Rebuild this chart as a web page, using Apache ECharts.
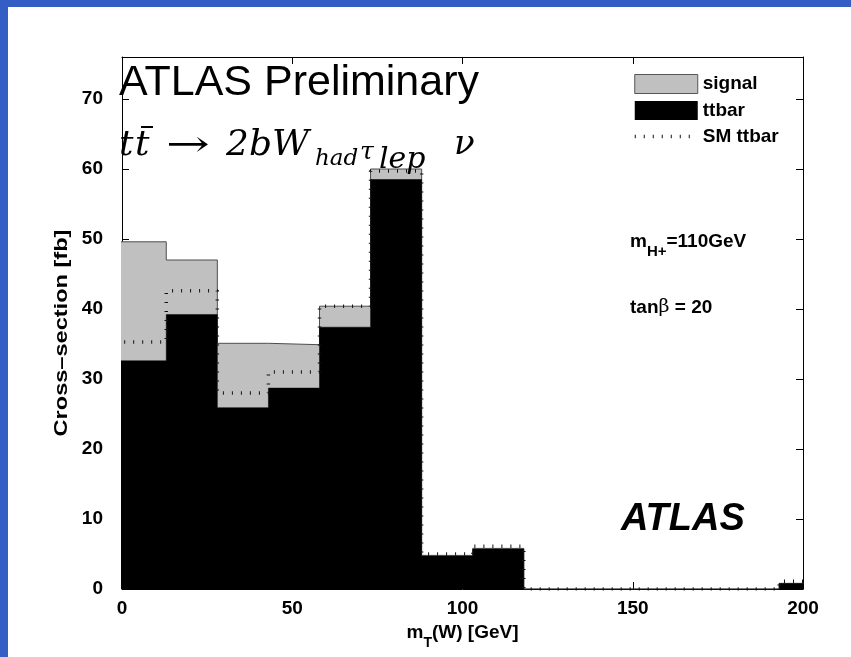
<!DOCTYPE html>
<html>
<head>
<meta charset="utf-8">
<script src="https://cdn.jsdelivr.net/npm/echarts@6/dist/echarts.min.js"></script>
<style>
  html, body { margin: 0; padding: 0; background: #ffffff; }
  #chart { width: 851px; height: 657px; }
</style>
</head>
<body>
<div id="chart"></div>
<script>
// Histogram bins of the transverse W mass (GeV); the first and last bins run past the axis range
const binEdges = [-2, 13, 28, 43, 58, 73, 88, 103, 118, 133, 148, 163, 178, 193, 208];

// Cross-sections per bin (fb)
const ttbar    = [32.6, 39.2, 25.9, 28.7, 37.4, 58.5, 4.7, 5.7, 0, 0, 0, 0, 0, 0.8];
const signal   = [17.0,  7.8,  9.2,  6.2,  3.0,  1.5, 0.1, 0.1, 0, 0, 0, 0, 0, 0.0];
const smTtbar  = [35.3, 42.6, 28.0, 31.0, 40.4, 59.7, 5.0, 6.1, 0, 0, 0, 0, 0, 1.1];

// Axis settings
const xRange = [0, 200];
const xStep = 50;
const yRange = [0, 76];
const yStep = 10;

const FONT = '"Liberation Sans", Arial, Helvetica, sans-serif';
const SERIF = '"DejaVu Serif", "Liberation Serif", serif';

// Signal is stacked on ttbar: the grey histogram shows the sum
const total = ttbar.map((v, i) => +(v + signal[i]).toFixed(3));

// Stair points for a step line: one point at every left bin edge plus the closing right edge
function stairs(values) {
  return binEdges.map((x, i) => [x, values[Math.min(i, values.length - 1)]]);
}

const chart = echarts.init(document.getElementById('chart'), null, { renderer: 'canvas' });

const boldText = { fontFamily: FONT, fontWeight: 'bold', fontSize: 19, color: '#000' };
const smLine = { color: '#111', width: 3.5, type: [1, 8] };

const option = {
  animation: false,
  backgroundColor: '#ffffff',
  grid: { left: 122, right: 48, top: 57, bottom: 68, show: false },
  legend: {
    left: 633, top: 74, orient: 'vertical',
    padding: 0, itemWidth: 63, itemHeight: 19, itemGap: 7,
    textStyle: { fontFamily: FONT, fontWeight: 'bold', fontSize: 19, color: '#000' },
    data: [
      { name: 'signal', icon: 'rect', itemStyle: { color: '#c0c0c0', borderColor: '#555555', borderWidth: 1 } },
      { name: 'ttbar', icon: 'rect', itemStyle: { color: '#000000' } },
      {
        name: 'SM ttbar',
        itemStyle: { color: 'rgba(0,0,0,0)', borderColor: 'rgba(0,0,0,0)', borderWidth: 0 },
        lineStyle: { ...smLine, opacity: 1 }
      }
    ]
  },
  xAxis: [
    {
      type: 'value', min: xRange[0], max: xRange[1], interval: xStep,
      name: '{a|m}{s|T}{a|(W) [GeV]}',
      nameLocation: 'middle', nameGap: 30,
      nameTextStyle: {
        rich: {
          a: { ...boldText, lineHeight: 22, verticalAlign: 'top' },
          s: { ...boldText, fontSize: 14, lineHeight: 14, padding: [13, 0, 0, 0], verticalAlign: 'top' }
        }
      },
      axisLine: { show: true, onZero: false, lineStyle: { color: '#000', width: 1 } },
      axisTick: { show: true, inside: true, length: 7, lineStyle: { color: '#000' } },
      axisLabel: { ...boldText, margin: 10 },
      splitLine: { show: false }
    },
    {
      type: 'value', position: 'top', min: xRange[0], max: xRange[1], interval: xStep,
      axisLine: { show: true, onZero: false, lineStyle: { color: '#000', width: 1 } },
      axisTick: { show: true, inside: true, length: 7, lineStyle: { color: '#000' } },
      axisLabel: { show: false },
      splitLine: { show: false }
    }
  ],
  yAxis: [
    {
      type: 'value', min: yRange[0], max: yRange[1], interval: yStep,
      axisLine: { show: true, onZero: false, lineStyle: { color: '#000', width: 1 } },
      axisTick: { show: true, inside: true, length: 7, lineStyle: { color: '#000' } },
      axisLabel: { ...boldText, margin: 19, showMaxLabel: false },
      splitLine: { show: false }
    },
    {
      type: 'value', position: 'right', min: yRange[0], max: yRange[1], interval: yStep,
      axisLine: { show: true, onZero: false, lineStyle: { color: '#000', width: 1 } },
      axisTick: { show: true, inside: true, length: 7, lineStyle: { color: '#000' } },
      axisLabel: { show: false },
      splitLine: { show: false }
    }
  ],
  series: [
    {
      name: 'signal', type: 'line', step: 'end', data: stairs(total),
      symbol: 'none', z: 2,
      lineStyle: { color: '#4d4d4d', width: 1 },
      itemStyle: { color: '#c0c0c0' },
      areaStyle: { color: '#c0c0c0', opacity: 1 }
    },
    {
      name: 'ttbar', type: 'line', step: 'end', data: stairs(ttbar),
      symbol: 'none', z: 3,
      lineStyle: { color: '#000', width: 0.5 },
      itemStyle: { color: '#000' },
      areaStyle: { color: '#000', opacity: 1 }
    },
    {
      name: 'SM ttbar', type: 'line', step: 'end', data: stairs(smTtbar),
      symbol: 'none', z: 4,
      itemStyle: { color: '#111' },
      lineStyle: smLine
    }
  ],
  graphic: [
    // frame band
    { type: 'rect', left: 0, top: 0, shape: { width: 851, height: 7 }, style: { fill: '#345ec4' }, silent: true },
    { type: 'rect', left: 0, top: 0, shape: { width: 8, height: 657 }, style: { fill: '#345ec4' }, silent: true },
    // y axis title, rotated
    {
      type: 'text', x: 62, y: 333, rotation: Math.PI / 2, scaleX: 1.24, z: 10,
      style: { text: 'Cross\u2013section [fb]', font: 'bold 19px ' + FONT, fill: '#000', align: 'center', verticalAlign: 'middle' }
    },
    {
      type: 'text', x: 119, y: 83, z: 10,
      style: { text: 'ATLAS Preliminary', font: 'normal 43px ' + FONT, fill: '#000', verticalAlign: 'middle' }
    },
    // decay channel  t tbar -> 2 b W_had tau_lep nu
    { type: 'text', x: 119, y: 146, z: 10, style: { text: 't', font: 'italic 36px ' + SERIF, fill: '#000', verticalAlign: 'middle' } },
    { type: 'text', x: 135, y: 146, z: 10, style: { text: 't', font: 'italic 36px ' + SERIF, fill: '#000', verticalAlign: 'middle' } },
    { type: 'line', shape: { x1: 141, y1: 127, x2: 153, y2: 127 }, style: { stroke: '#000', lineWidth: 2 }, z: 10 },
    { type: 'text', x: 166, y: 147, scaleX: 1.45, z: 10, style: { text: '\u2192', font: 'normal 36px ' + SERIF, fill: '#000', verticalAlign: 'middle' } },
    { type: 'text', x: 226, y: 146, z: 10, style: { text: '2bW', font: 'italic 36px ' + SERIF, fill: '#000', verticalAlign: 'middle' } },
    { type: 'text', x: 315, y: 159, z: 10, style: { text: 'had', font: 'italic 23px ' + SERIF, fill: '#000', verticalAlign: 'middle' } },
    { type: 'text', x: 360, y: 152, z: 10, style: { text: '\u03c4', font: 'italic 25px ' + SERIF, fill: '#000', verticalAlign: 'middle' } },
    { type: 'text', x: 379, y: 160, z: 10, style: { text: 'lep', font: 'italic 30px ' + SERIF, fill: '#000', verticalAlign: 'middle' } },
    { type: 'text', x: 454, y: 145, z: 10, style: { text: '\u03bd', font: 'italic 34px ' + SERIF, fill: '#000', verticalAlign: 'middle' } },
    {
      type: 'text', x: 630, y: 232, z: 10,
      style: {
        text: '{b|m}{s|H+}{b|=110GeV}',
        rich: {
          b: { ...boldText, lineHeight: 22, verticalAlign: 'top' },
          s: { ...boldText, fontSize: 15, lineHeight: 15, padding: [12, 0, 0, 0], verticalAlign: 'top' }
        }
      }
    },
    {
      type: 'text', x: 630, y: 298, z: 10,
      style: {
        text: '{b|tan}{g|\u03b2}{b| = 20}',
        rich: {
          b: { ...boldText, lineHeight: 22, verticalAlign: 'top' },
          g: { fontFamily: SERIF, fontSize: 19, color: '#000', lineHeight: 22, verticalAlign: 'top' }
        }
      }
    },
    {
      type: 'text', x: 621, y: 520, z: 10,
      style: { text: 'ATLAS', font: 'italic bold 38px ' + FONT, fill: '#000', verticalAlign: 'middle' }
    }
  ]
};

chart.setOption(option);
</script>
</body>
</html>
